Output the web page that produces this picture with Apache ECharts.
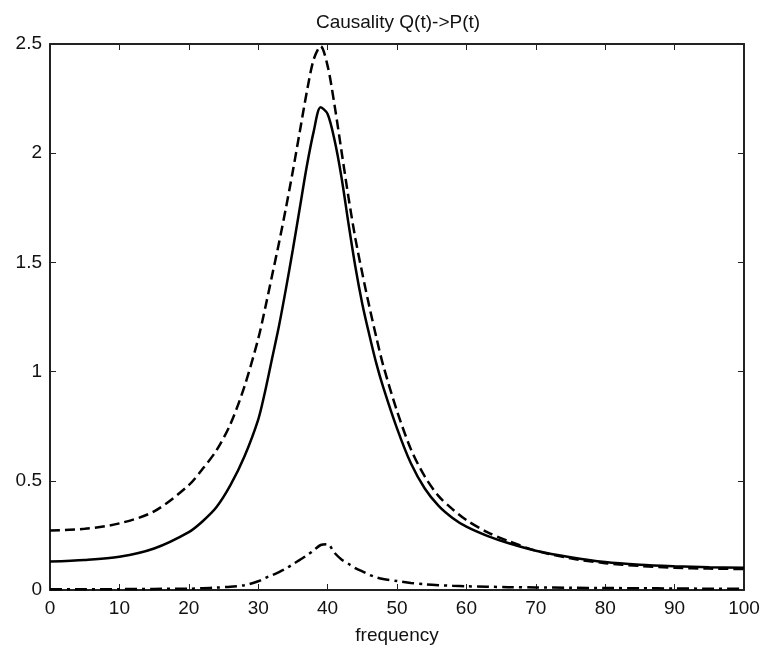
<!DOCTYPE html>
<html>
<head>
<meta charset="utf-8">
<script src="https://cdn.jsdelivr.net/npm/echarts@6/dist/echarts.min.js"></script>
<style>
html,body{margin:0;padding:0;background:#fff;}
#chart{width:769px;height:658px;}
</style>
</head>
<body>
<div id="chart"></div>
<script>
const freq = [0,5,10,15,20,22,24,26,28,30,31,32,33,34,35,36,37,38,39,40,41,42,43,44,45,46,47,48,50,52,54,56,58,60,63,66,70,75,80,85,90,95,100];
const solidVals = [0.13,0.137,0.152,0.19,0.265,0.315,0.38,0.48,0.61,0.78,0.91,1.06,1.21,1.38,1.56,1.75,1.94,2.10,2.21,2.18,2.06,1.89,1.68,1.48,1.31,1.17,1.04,0.93,0.74,0.58,0.465,0.385,0.33,0.29,0.248,0.215,0.18,0.15,0.128,0.116,0.109,0.104,0.102];
const dashedVals = [0.272,0.28,0.305,0.36,0.48,0.555,0.64,0.76,0.93,1.15,1.29,1.44,1.59,1.75,1.92,2.10,2.28,2.43,2.49,2.40,2.22,2.01,1.80,1.61,1.45,1.30,1.16,1.03,0.82,0.645,0.52,0.43,0.37,0.32,0.265,0.225,0.18,0.145,0.123,0.11,0.102,0.098,0.096];
const dashDotVals = [0.003,0.003,0.004,0.005,0.006,0.008,0.011,0.015,0.022,0.040,0.055,0.068,0.082,0.098,0.118,0.138,0.158,0.182,0.206,0.21,0.17,0.14,0.12,0.10,0.085,0.07,0.058,0.05,0.041,0.032,0.026,0.022,0.019,0.017,0.015,0.013,0.012,0.01,0.009,0.008,0.007,0.006,0.006];
const xTicks = [0,10,20,30,40,50,60,70,80,90,100];
const yTicks = [0,0.5,1,1.5,2,2.5];
const titleText = 'Causality Q(t)->P(t)';
const xName = 'frequency';

const FONT = 'Liberation Sans, Arial, sans-serif';
const pairs = vals => freq.map((f, i) => [f, vals[i]]);

const axisCommon = {
  axisLine: { show: true, onZero: false, lineStyle: { color: '#222', width: 2 } },
  axisTick: { show: true, inside: true, length: 6, lineStyle: { color: '#222', width: 1 } },
  splitLine: { show: false }
};

const chart = echarts.init(document.getElementById('chart'), null, { renderer: 'canvas' });
chart.setOption({
  animation: false,
  backgroundColor: '#fff',
  title: {
    text: titleText,
    left: 393, top: 8, textAlign: 'center',
    textStyle: { fontFamily: FONT, fontSize: 19, fontWeight: 'normal', color: '#111' }
  },
  grid: { left: 50, right: 25, top: 44, bottom: 68, containLabel: false },
  xAxis: [
    Object.assign({
      type: 'value', position: 'bottom',
      min: xTicks[0], max: xTicks[xTicks.length - 1], interval: xTicks[1] - xTicks[0],
      name: xName, nameLocation: 'middle', nameGap: 36,
      nameTextStyle: { fontFamily: FONT, fontSize: 19, color: '#111' },
      axisLabel: { fontFamily: FONT, fontSize: 19, color: '#111', margin: 9 }
    }, axisCommon),
    Object.assign({
      type: 'value', position: 'top',
      min: xTicks[0], max: xTicks[xTicks.length - 1], interval: xTicks[1] - xTicks[0],
      axisLabel: { show: false }
    }, axisCommon)
  ],
  yAxis: [
    Object.assign({
      type: 'value', position: 'left',
      min: yTicks[0], max: yTicks[yTicks.length - 1], interval: yTicks[1] - yTicks[0],
      axisLabel: { fontFamily: FONT, fontSize: 19, color: '#111', margin: 8 }
    }, axisCommon),
    Object.assign({
      type: 'value', position: 'right',
      min: yTicks[0], max: yTicks[yTicks.length - 1], interval: yTicks[1] - yTicks[0],
      axisLabel: { show: false }
    }, axisCommon)
  ],
  series: [
    {
      type: 'line', data: pairs(dashDotVals), showSymbol: false, smooth: 0.3,
      lineStyle: { color: '#000', width: 2.5, type: [12, 5, 3, 5] }
    },
    {
      type: 'line', data: pairs(solidVals), showSymbol: false, smooth: 0.3,
      lineStyle: { color: '#000', width: 2.5, type: 'solid' }
    },
    {
      type: 'line', data: pairs(dashedVals), showSymbol: false, smooth: 0.3,
      lineStyle: { color: '#000', width: 2.5, type: [10, 5] }
    }
  ]
});
</script>
</body>
</html>
